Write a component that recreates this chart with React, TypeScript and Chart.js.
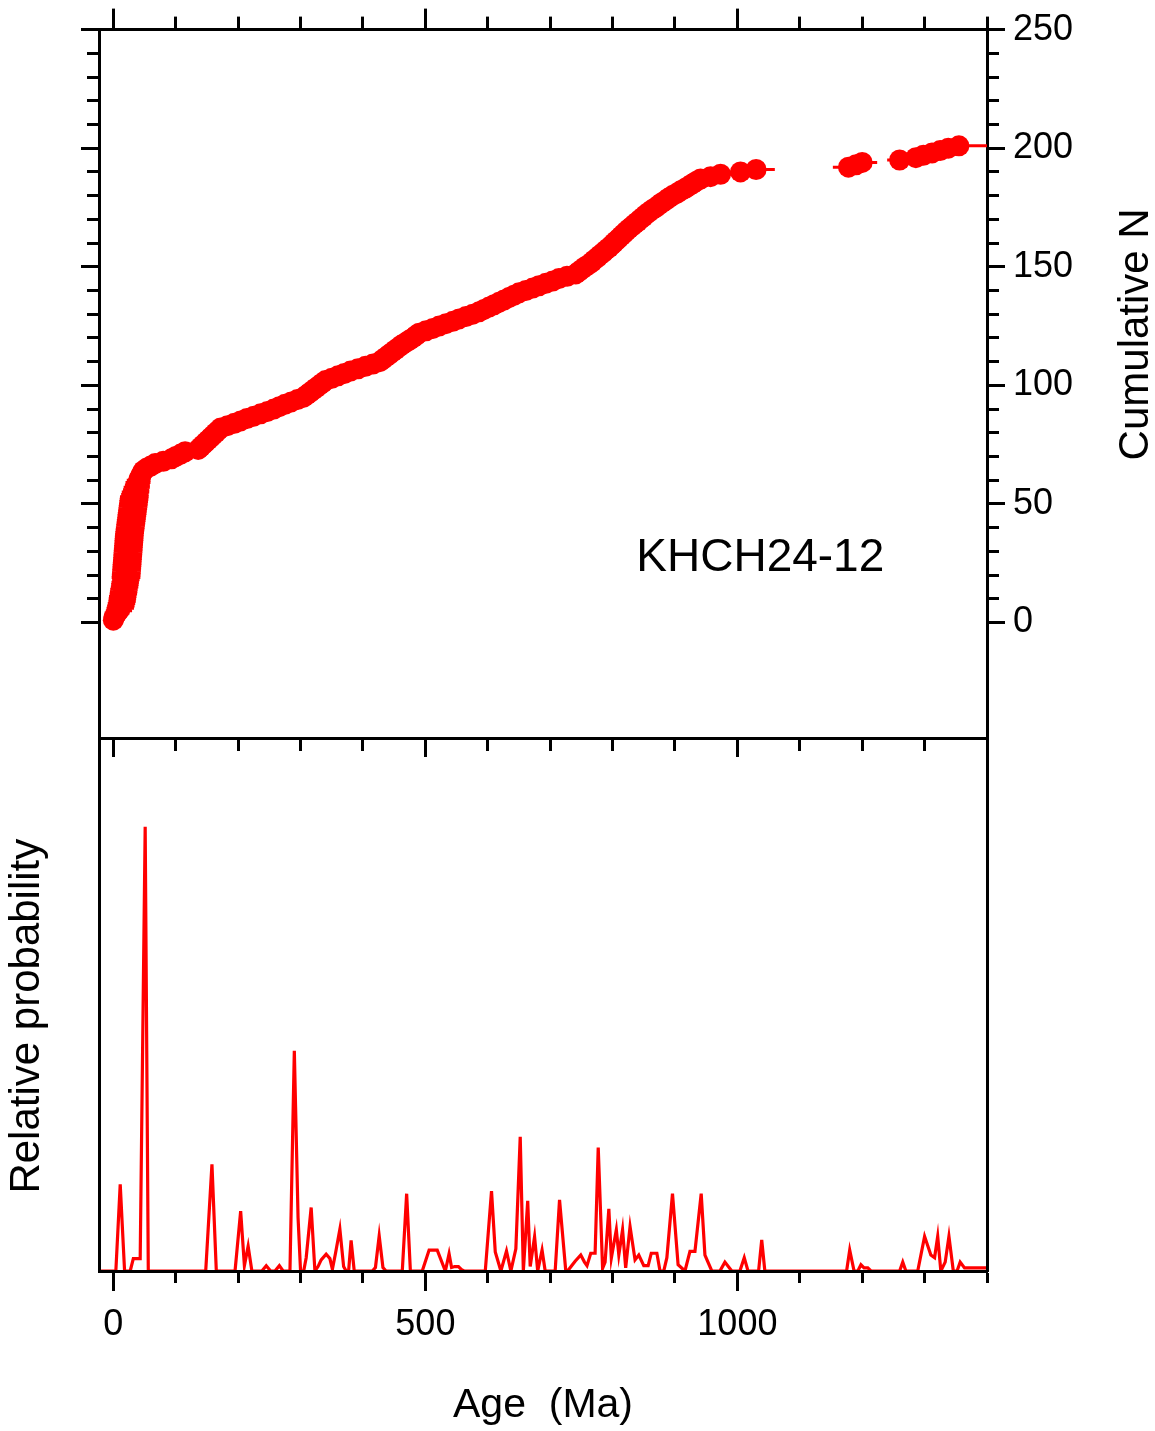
import React, { useEffect, useRef } from "react";
import { Chart, registerables } from "chart.js";

Chart.register(...registerables);

// ---------------- data ----------------
const sampleName = "KHCH24-12";
const xTitle = "Age  (Ma)";
const yLeftTitle = "Relative probability  ";
const yRightTitle = "Cumulative N";

// tick positions
const ageMinorTicks = [0, 100, 200, 300, 400, 500, 600, 700, 800, 900, 1000, 1100, 1200, 1300, 1400];
const ageMajorTicks = [0, 500, 1000];
const nMinorTicks = [0, 10, 20, 30, 40, 50, 60, 70, 80, 90, 100, 110, 120, 130, 140, 150, 160, 170, 180, 190, 200, 210, 220, 230, 240, 250];
const nMajorTicks = [0, 50, 100, 150, 200, 250];

// grain ages (Ma), sorted; cumulative N is the rank of each grain
const grainAges = [
  0, 1, 3, 6, 9, 11, 12, 13,
  14, 14.5, 15, 16, 16.5, 17, 18, 18.5, 19, 20,
  20.3, 20.6, 20.9, 21.2, 21.5, 21.8, 22.1, 22.4, 22.7, 23, 23.3, 23.6, 23.9, 24.2, 24.5, 24.8, 25.1, 25.4, 25.7,
  26.1, 26.6, 27.1, 27.6, 28.1, 28.6, 29.1, 29.6, 30.1, 30.6, 31.1, 31.6, 32.1, 32.6, 33.1, 33.6,
  34.5, 35.5, 36.5, 37.5, 38.5, 39.5, 40.5,
  42, 44, 46, 48,
  53, 60, 67,
  80, 93,
  100, 108, 115,
  136,
  140, 144, 148, 152,
  156, 160, 164, 168, 172,
  183, 194, 204,
  214, 225, 236, 247,
  257, 266, 275,
  285, 295, 305,
  310, 315, 320, 325, 330, 335, 340,
  350, 360, 370, 380,
  392, 404, 416, 427,
  432, 437, 442, 447, 452, 457,
  462, 468, 474, 480, 485, 490,
  501, 512, 522,
  533, 544, 554,
  565, 576, 586,
  594, 602, 610, 618,
  626, 634, 642, 650,
  661, 672, 682,
  693, 704, 714,
  727, 741,
  746, 751, 756, 762,
  767, 771, 776, 780, 785, 789, 794,
  798, 802, 806, 810, 814, 818, 822, 826,
  831, 835, 840, 844, 849, 853, 858,
  863, 869, 874, 879, 885, 890,
  896, 903, 909, 916, 922,
  928, 934, 941,
  957, 973,
  1005, 1030,
  1178, 1190, 1200,
  1260, 1286, 1298, 1312, 1325, 1338, 1355,
];

// age uncertainties (Ma) of each grain, drawn as horizontal bars
const grainErrors = [
  10, 14, 16,
  20, 21, 22, 22, 22,
  22, 22, 22, 22, 22, 22, 22, 22, 22, 22,
  23, 23, 23, 23, 23, 23, 23, 23, 23, 23, 23, 23, 23, 23, 23, 23, 23, 23, 23,
  23, 23, 23, 23, 23, 23, 23, 23, 23, 23, 23, 23, 23, 23, 23, 23,
  22, 22, 21, 21, 20, 20, 19,
  16, 13, 10, 8,
  6, 6, 6,
  6, 6,
  6, 6, 6,
  7,
  7, 7, 7, 7,
  7, 7, 7, 7, 7,
  8, 8, 8,
  8, 8, 8, 8,
  9, 9, 9,
  9, 9, 9,
  9, 9, 9, 9, 9, 9, 9,
  10, 10, 10, 10,
  10, 10, 10, 10,
  11, 11, 11, 11, 11, 11,
  11, 11, 11, 11, 11, 11,
  12, 12, 12,
  12, 12, 12,
  13, 13, 13,
  14, 14, 14, 14,
  15, 15, 15, 15,
  16, 16, 16,
  16, 16, 16,
  18, 18,
  18, 18, 18, 18,
  19, 19, 19, 19, 19, 19, 19,
  19, 19, 19, 19, 19, 19, 19, 19,
  20, 20, 20, 20, 20, 20, 20,
  20, 20, 20, 20, 20, 20,
  21, 21, 21, 21, 21,
  21, 21, 21,
  22, 22,
  25, 30,
  25, 24, 24,
  20, 22, 24, 25, 26, 28, 45,
];

// probability density curve (age in Ma, relative probability)
const pdpAges = [
  -23, 4, 11, 18, 27, 32, 43, 51, 56,
  148, 158, 165,
  195, 204, 210, 216, 222,
  238, 245, 252, 259, 266, 272,
  283, 290, 292, 296, 300,
  305, 309, 317, 323,
  328, 333, 341, 347, 351, 356, 363, 369, 373, 377, 381, 386,
  415, 420, 426, 432, 437,
  463, 470, 476,
  495, 506, 519, 532, 538, 542, 547, 553, 558, 562,
  596, 606, 612, 621, 630, 637, 645, 652, 657, 664, 668, 675, 680, 687, 692,
  708, 715, 725,
  728, 735, 740, 749, 755, 759, 765, 772, 777, 784, 788, 794, 798, 806, 810, 816, 821, 828, 836, 842, 850, 857, 862, 871, 876,
  882, 887, 896, 905, 916, 924, 932, 942, 948, 959,
  972, 980, 991,
  1004, 1011, 1017,
  1034, 1039, 1044,
  1175, 1180, 1187, 1193, 1198, 1203, 1209, 1214,
  1260, 1265, 1270,
  1289, 1300, 1310, 1316, 1321, 1326, 1333, 1339, 1346, 1352, 1357, 1364, 1400,
];
const pdpProb = [
  0, 0, 0.195, 0, 0, 0.028, 0.028, 1.0, 0,
  0, 0.24, 0,
  0, 0.135, 0.012, 0.056, 0,
  0, 0.012, 0, 0, 0.012, 0,
  0, 0.496, 0.37, 0.12, 0,
  0, 0.03, 0.143, 0,
  0.01, 0.025, 0.038, 0.028, 0.004, 0.04, 0.094, 0.01, 0, 0, 0.069, 0,
  0, 0.008, 0.079, 0.008, 0,
  0, 0.174, 0,
  0, 0.047, 0.047, 0, 0.039, 0.008, 0.01, 0.01, 0.003, 0,
  0, 0.18, 0.043, 0, 0.045, 0, 0.05, 0.302, 0, 0.158, 0.01, 0.077, 0, 0.047, 0,
  0, 0.16, 0,
  0, 0.013, 0.022, 0.036, 0.02, 0.012, 0.04, 0.04, 0.278, 0.006, 0.02, 0.14, 0.029, 0.093, 0.036, 0.093, 0.007, 0.1, 0.025, 0.036, 0.012, 0.012, 0.04, 0.04, 0,
  0, 0.03, 0.174, 0.014, 0, 0.044, 0.044, 0.174, 0.036, 0,
  0, 0.02, 0,
  0, 0.03, 0,
  0, 0.07, 0,
  0, 0.047, 0, 0, 0.014, 0.007, 0.007, 0,
  0, 0.02, 0,
  0, 0.078, 0.036, 0.03, 0.078, 0, 0.02, 0.078, 0, 0, 0.02, 0.007, 0.007,
];

// axis ranges
const X_MIN = -23;
const X_MAX = 1400;
const N_MIN = -48.7;
const N_MAX = 250;
const P_MIN = 0;
const P_MAX = 1.2;

// ---------------- style ----------------
const W = 1155;
const H = 1431;
const RED = "#ff0000";
const BLACK = "#000000";
const AXIS_W = 3;
const FONT = "'Liberation Sans', Arial, Helvetica, sans-serif";

Chart.defaults.font.family = FONT;
Chart.defaults.color = BLACK;

const fixedWidth = (w: number) => (scale: any) => {
  scale.width = w;
};
const fixedHeight = (h: number) => (scale: any) => {
  scale.height = h;
};
const useTicks = (values: number[]) => (scale: any) => {
  scale.ticks = values.map((v) => ({ value: v }));
};

function tickAxis(opts: {
  position: string;
  min: number;
  max: number;
  values: number[];
  tickLength: number;
  weight: number;
  size: number;
  labels?: boolean;
  labelPadding?: number;
  onTop?: boolean;
}) {
  const horizontal = opts.position === "top" || opts.position === "bottom";
  return {
    type: "linear",
    position: opts.position,
    min: opts.min,
    max: opts.max,
    weight: opts.weight,
    ticks: {
      display: !!opts.labels,
      font: { size: 36, family: FONT },
      color: BLACK,
      padding: opts.labelPadding ?? 8,
      maxRotation: 0,
      minRotation: 0,
      autoSkip: false,
      callback: (v: any) => String(v),
    },
    grid: {
      display: true,
      drawOnChartArea: false,
      drawTicks: true,
      tickLength: opts.tickLength,
      tickWidth: AXIS_W,
      tickColor: BLACK,
    },
    border: { display: true, width: AXIS_W, color: BLACK, z: opts.onTop ? 1 : 0 },
    afterBuildTicks: useTicks(opts.values),
    afterFit: horizontal ? fixedHeight(opts.size) : fixedWidth(opts.size),
  };
}

// error bars for the cumulative plot
const errorBarPlugin = {
  id: "errorBars",
  beforeDatasetsDraw(chart: any) {
    const { ctx, chartArea, scales } = chart;
    const xs = scales.x;
    const ys = scales.y;
    const n = Math.min(grainAges.length, grainErrors.length);
    ctx.save();
    ctx.beginPath();
    ctx.rect(chartArea.left, chartArea.top, chartArea.right - chartArea.left, chartArea.bottom - chartArea.top);
    ctx.clip();
    ctx.strokeStyle = RED;
    ctx.lineWidth = 3;
    for (let i = 0; i < n; i++) {
      const y = ys.getPixelForValue(i + 1);
      ctx.beginPath();
      ctx.moveTo(xs.getPixelForValue(grainAges[i] - grainErrors[i]), y);
      ctx.lineTo(xs.getPixelForValue(grainAges[i] + grainErrors[i]), y);
      ctx.stroke();
    }
    ctx.restore();
  },
};

// right-hand axis title and sample label
const topTextPlugin = {
  id: "topTexts",
  afterDraw(chart: any) {
    const { ctx, scales } = chart;
    const xs = scales.x;
    const ys = scales.y;
    ctx.save();
    ctx.fillStyle = BLACK;
    ctx.font = `46px ${FONT}`;
    ctx.textAlign = "left";
    ctx.textBaseline = "middle";
    ctx.fillText(sampleName, xs.getPixelForValue(838), ys.getPixelForValue(27));

    ctx.font = `42px ${FONT}`;
    ctx.translate(scales.yRMajor.right - 7, ys.getPixelForValue(121.5));
    ctx.rotate(-Math.PI / 2);
    ctx.textAlign = "center";
    ctx.textBaseline = "alphabetic";
    ctx.fillText(yRightTitle, 0, 0);
    ctx.restore();
  },
};

function topConfig(): any {
  return {
    type: "scatter",
    data: {
      datasets: [
        {
          data: grainAges.map((a, i) => ({ x: a, y: i + 1 })),
          backgroundColor: RED,
          borderWidth: 0,
          pointRadius: 10.5,
          pointHoverRadius: 10.5,
        },
      ],
    },
    options: {
      responsive: false,
      animation: false,
      devicePixelRatio: 1,
      events: [],
      layout: { padding: 0 },
      plugins: { legend: { display: false }, tooltip: { enabled: false } },
      scales: {
        x: tickAxis({ position: "bottom", min: X_MIN, max: X_MAX, values: ageMinorTicks, tickLength: 13, weight: 0, size: 0 }),
        xBotMajor: tickAxis({ position: "bottom", min: X_MIN, max: X_MAX, values: ageMajorTicks, tickLength: 19, weight: 1, size: H - 738 }),
        xTopMinor: tickAxis({ position: "top", min: X_MIN, max: X_MAX, values: ageMinorTicks, tickLength: 13, weight: 0, size: 0 }),
        xTopMajor: tickAxis({ position: "top", min: X_MIN, max: X_MAX, values: ageMajorTicks, tickLength: 21, weight: 1, size: 28 }),
        y: tickAxis({ position: "right", min: N_MIN, max: N_MAX, values: nMinorTicks, tickLength: 12, weight: 0, size: 0 }),
        yRMajor: tickAxis({ position: "right", min: N_MIN, max: N_MAX, values: nMajorTicks, tickLength: 18, weight: 1, size: W - 987, labels: true, labelPadding: 8 }),
        yLMinor: tickAxis({ position: "left", min: N_MIN, max: N_MAX, values: nMinorTicks, tickLength: 12, weight: 0, size: 0 }),
        yLMajor: tickAxis({ position: "left", min: N_MIN, max: N_MAX, values: nMajorTicks, tickLength: 18, weight: 1, size: 99 }),
      },
    },
    plugins: [errorBarPlugin, topTextPlugin],
  };
}

function bottomConfig(): any {
  const xMajor: any = tickAxis({ position: "bottom", min: X_MIN, max: X_MAX, values: ageMajorTicks, tickLength: 20, weight: 1, size: H - 1271, labels: true, labelPadding: 12, onTop: true });
  xMajor.title = { display: true, text: xTitle, color: BLACK, font: { size: 41, family: FONT }, padding: { top: 0, bottom: 1 } };
  return {
    type: "line",
    data: {
      datasets: [
        {
          data: pdpAges.map((a, i) => ({ x: a, y: pdpProb[i] })),
          borderColor: RED,
          borderWidth: 3.2,
          pointRadius: 0,
          tension: 0,
          fill: false,
        },
      ],
    },
    options: {
      responsive: false,
      animation: false,
      devicePixelRatio: 1,
      events: [],
      layout: { padding: 0 },
      plugins: { legend: { display: false }, tooltip: { enabled: false } },
      scales: {
        x: tickAxis({ position: "bottom", min: X_MIN, max: X_MAX, values: ageMinorTicks, tickLength: 12, weight: 0, size: 0, onTop: true }),
        xMajor,
        xTop: {
          type: "linear",
          position: "top",
          min: X_MIN,
          max: X_MAX,
          ticks: { display: false },
          grid: { display: false },
          border: { display: true, width: AXIS_W, color: BLACK, z: 1 },
          afterFit: fixedHeight(738),
        },
        y: {
          type: "linear",
          position: "left",
          min: P_MIN,
          max: P_MAX,
          ticks: { display: false },
          grid: { display: false },
          border: { display: true, width: AXIS_W, color: BLACK, z: 1 },
          title: { display: true, text: yLeftTitle, color: BLACK, font: { size: 42, family: FONT }, padding: { top: 2, bottom: 0 } },
          afterFit: fixedWidth(99),
        },
        yR: {
          type: "linear",
          position: "right",
          min: P_MIN,
          max: P_MAX,
          ticks: { display: false },
          grid: { display: false },
          border: { display: true, width: AXIS_W, color: BLACK, z: 1 },
          afterFit: fixedWidth(W - 987),
        },
      },
    },
  };
}

export default function App() {
  const topRef = useRef<HTMLCanvasElement>(null);
  const botRef = useRef<HTMLCanvasElement>(null);

  useEffect(() => {
    if (!topRef.current || !botRef.current) return;
    const bottom = new Chart(botRef.current, bottomConfig());
    const top = new Chart(topRef.current, topConfig());
    return () => {
      top.destroy();
      bottom.destroy();
    };
  }, []);

  const canvasStyle: React.CSSProperties = { position: "absolute", left: 0, top: 0, width: W, height: H, display: "block" };
  return (
    <div style={{ position: "absolute", left: 0, top: 0, width: W, height: H, background: "#ffffff", overflow: "hidden" }}>
      <canvas ref={botRef} width={W} height={H} style={canvasStyle} />
      <canvas ref={topRef} width={W} height={H} style={canvasStyle} />
    </div>
  );
}
